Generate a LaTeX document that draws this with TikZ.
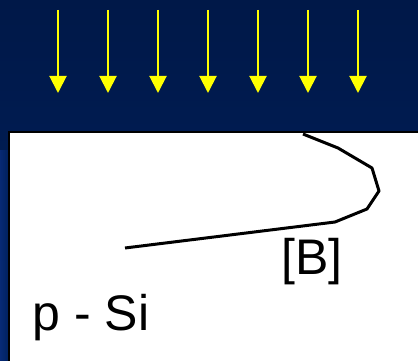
\documentclass[tikz,border=0pt]{standalone}
\usepackage{fontspec}
\setmainfont{Liberation Sans}
\usetikzlibrary{arrows.meta,positioning}
\definecolor{skytop}{HTML}{001848}
\definecolor{skybot}{HTML}{00215E}
\definecolor{skyedge}{HTML}{0A2F82}
\definecolor{beamyellow}{HTML}{FFFF00}

\begin{document}
\begin{tikzpicture}[x=1pt,y=-1pt,font=\fontsize{50}{60}\selectfont]
        \useasboundingbox (0,0) rectangle (418,361);
        \shade[top color=skytop,bottom color=skybot] (0,0) rectangle (418,361);
        \shade[left color=skyedge,right color=skybot,opacity=0.7] (0,150) rectangle (9,361);
        % implant beam
        \foreach \i in {0,...,6} {
          \coordinate (b\i) at (58+50*\i,10);
          \coordinate (t\i) at (58+50*\i,93);
          \draw[beamyellow,line width=2pt,-{Triangle[width=17pt,length=17pt]}] (b\i) -- (t\i);
        }
        % wafer
        \draw[line width=2pt,fill=white] (9,132) rectangle (422,365);
        \draw[line width=3pt,line join=round] (303,134) -- (338,148) -- (372,168) -- (379,191)
          -- (367,209) -- (335,222) -- (125,248);
        \node (conc) at (312,262) {[B]};
        \node (sub) at (91,318) {p - Si};
      \end{tikzpicture}
\end{document}
